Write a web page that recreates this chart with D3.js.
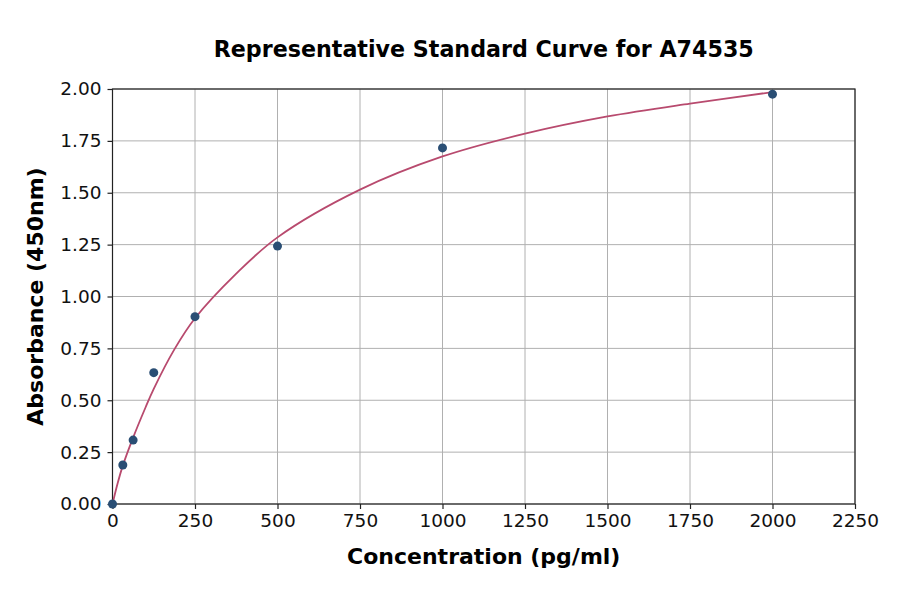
<!DOCTYPE html>
<html>
<head>
<meta charset="utf-8">
<script src="https://cdn.jsdelivr.net/npm/d3@7"></script>
<style>
    body { margin: 0; background: #fff; }
    text { font-family: "DejaVu Sans", sans-serif; }
</style>
</head>
<body>
<div id="chartContent"></div>
<script>
// Standard points (conc in pg/ml, absorbance at 450nm)
var concentrations = [0, 31.25, 62.5, 125, 250, 500, 1000, 2000]
var absorbances = [0.0, 0.188, 0.308, 0.633, 0.903, 1.243, 1.716, 1.975]

// Fitted curve
var curveConc = [0, 15.6, 31.25, 62.5, 100, 125, 187.5, 250, 375, 500, 750, 1000, 1250, 1500, 1750, 2000]
var curveAbs = [0, 0.10, 0.185, 0.32, 0.465, 0.555, 0.745, 0.895, 1.11, 1.285, 1.515, 1.675, 1.785, 1.868, 1.93, 1.985]

var xTicks = [0, 250, 500, 750, 1000, 1250, 1500, 1750, 2000, 2250]
var yTicks = [0, 0.25, 0.5, 0.75, 1.0, 1.25, 1.5, 1.75, 2.0]

var chartWidth = 900
var chartHeight = 594
var plotLeft = 112.5, plotRight = 855, plotTop = 89, plotBottom = 504

var svg = d3.select("#chartContent")
    .append("svg")
    .attr("width", chartWidth)
    .attr("height", chartHeight)

var x = d3.scaleLinear().domain([0, 2250]).range([plotLeft, plotRight])
var y = d3.scaleLinear().domain([0, 2]).range([plotBottom, plotTop])

//Grid
svg.append("g")
    .selectAll("line")
    .data(xTicks)
    .enter()
    .append("line")
    .attr("x1", d => x(d)).attr("x2", d => x(d))
    .attr("y1", plotTop).attr("y2", plotBottom)
    .attr("stroke", "#b0b0b0")
    .attr("stroke-width", 1)

svg.append("g")
    .selectAll("line")
    .data(yTicks)
    .enter()
    .append("line")
    .attr("x1", plotLeft).attr("x2", plotRight)
    .attr("y1", d => y(d)).attr("y2", d => y(d))
    .attr("stroke", "#b0b0b0")
    .attr("stroke-width", 1)

//Axes
var xAxis = svg.append("g")
    .attr("transform", `translate(0,${plotBottom})`)
    .call(d3.axisBottom(x).tickValues(xTicks).tickFormat(d3.format("d")).tickSize(5).tickPadding(5))
var yAxis = svg.append("g")
    .attr("transform", `translate(${plotLeft},0)`)
    .call(d3.axisLeft(y).tickValues(yTicks).tickFormat(d3.format(".2f")).tickSize(5).tickPadding(6))

;[xAxis, yAxis].forEach(a => {
    a.select(".domain").remove()
    a.selectAll(".tick line").attr("stroke", "#222").attr("stroke-width", 1.2)
    a.selectAll(".tick text")
        .attr("fill", "#111")
        .style("font-size", "18.5px")
        .style("font-family", "DejaVu Sans")
})

//Frame
svg.append("rect")
    .attr("x", plotLeft).attr("y", plotTop)
    .attr("width", plotRight - plotLeft).attr("height", plotBottom - plotTop)
    .attr("fill", "none")
    .attr("stroke", "#222")
    .attr("stroke-width", 1.2)

//Curve
var line = d3.line()
    .x((d, i) => x(curveConc[i]))
    .y(d => y(d))
    .curve(d3.curveCatmullRom.alpha(0.5))

svg.append("path")
    .datum(curveAbs)
    .attr("d", line)
    .attr("fill", "none")
    .attr("stroke", "#b84a6e")
    .attr("stroke-width", 1.8)

//Points
svg.append("g")
    .selectAll("circle")
    .data(absorbances)
    .enter()
    .append("circle")
    .attr("cx", (d, i) => x(concentrations[i]))
    .attr("cy", d => y(d))
    .attr("r", 4.5)
    .attr("fill", "#2a4e74")

//Titles
svg.append("text")
    .attr("x", (plotLeft + plotRight) / 2)
    .attr("y", 57)
    .attr("text-anchor", "middle")
    .style("font-size", "22.2px")
    .style("font-weight", "bold")
    .text("Representative Standard Curve for A74535")

svg.append("text")
    .attr("x", (plotLeft + plotRight) / 2)
    .attr("y", 564)
    .attr("text-anchor", "middle")
    .style("font-size", "22px")
    .style("font-weight", "bold")
    .text("Concentration (pg/ml)")

svg.append("text")
    .attr("transform", `translate(43,${(plotTop + plotBottom) / 2}) rotate(-90)`)
    .attr("text-anchor", "middle")
    .style("font-size", "22px")
    .style("font-weight", "bold")
    .text("Absorbance (450nm)")
</script>
</body>
</html>
